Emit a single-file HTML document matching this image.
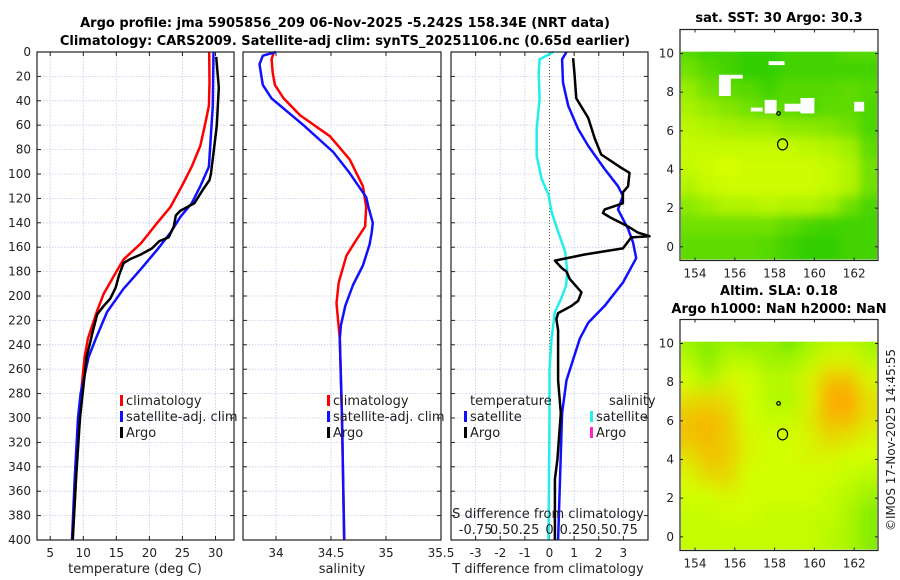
<!DOCTYPE html>
<html><head><meta charset="utf-8"><style>
body{margin:0;background:#fff;}
svg{display:block;font-family:"DejaVu Sans","Liberation Sans",sans-serif;}
</style></head><body>
<svg id="fig" width="900" height="580" viewBox="0 0 900 580" xmlns="http://www.w3.org/2000/svg">
<text x="345" y="27" font-size="13" font-weight="bold" text-anchor="middle">Argo profile: jma 5905856_209 06-Nov-2025 -5.242S 158.34E (NRT data)</text>
<text x="345" y="45" font-size="13" font-weight="bold" text-anchor="middle">Climatology: CARS2009. Satellite-adj clim: synTS_20251106.nc (0.65d earlier)</text>
<text x="779" y="22" font-size="13" font-weight="bold" text-anchor="middle">sat. SST: 30 Argo: 30.3</text>
<text x="779" y="295" font-size="13" font-weight="bold" text-anchor="middle">Altim. SLA: 0.18</text>
<text x="779" y="313" font-size="13" font-weight="bold" text-anchor="middle">Argo h1000: NaN h2000: NaN</text>
<text transform="translate(895,440) rotate(-90)" font-size="12" text-anchor="middle" fill="#222">©IMOS 17-Nov-2025 14:45:55</text>
<g id="g"></g>
</svg>
<script>
// ---- data ----
const depthTicks=[0,20,40,60,80,100,120,140,160,180,200,220,240,260,280,300,320,340,360,380,400];
const tempTicks=[5,10,15,20,25,30];
const salTicks=[34,34.5,35,35.5];
const tdiffTicks=[-3,-2,-1,0,1,2,3];
const sdiffTickLabels=['-0.75','0.5','0.25','0','0.25','0.5','0.75'];
const sdiffTicks=[-0.75,-0.5,-0.25,0,0.25,0.5,0.75];

const climTDepth=[0,25,44,60,77,94,110,127,140,157,170,181,198,212,235,250,300,350,400];
const climT=[29.05,29.1,29.0,28.4,27.7,26.4,24.9,23.2,21.2,18.7,16.1,14.9,13.1,12.1,10.7,10.2,9.3,8.9,8.4];
const satTDepth=[0,44,94,110,124,135,148,162,178,194,213,235,250,280,300,350,400];
const satT=[29.7,29.6,29.0,27.7,26.4,24.7,23.2,21.2,18.7,16.1,13.6,11.9,10.8,9.6,9.2,8.7,8.3];
const argoTDepth=[4,29,60,74,100,105,112,124,130,134,143,152,155,161,166,170,173,183,193,202,208,215,230,237,250,300,350,400];
const argoT=[30.1,30.5,30.2,29.9,29.3,29.1,28.2,26.8,24.7,24.0,23.7,22.9,21.5,20.4,18.7,17.0,16.1,15.4,14.9,14.1,13.1,12.1,11.4,11.1,10.5,9.5,8.9,8.4];

const climSDepth=[0,6,17,27,38,52,69,88,110,127,143,154,167,189,206,235,300,400];
const climS=[33.98,33.96,33.97,33.99,34.07,34.22,34.49,34.67,34.79,34.82,34.81,34.73,34.64,34.57,34.55,34.58,34.6,34.62];
const satSDepth=[0,3,10,27,38,60,82,98,119,127,140,148,158,175,191,208,224,235,300,400];
const satS=[34.0,33.88,33.85,33.88,33.96,34.25,34.52,34.66,34.82,34.84,34.88,34.87,34.85,34.79,34.70,34.63,34.59,34.58,34.6,34.62];

const sdSatDepth=[0,6,17,38,63,85,104,117,131,148,164,180,191,202,213,235,260,300,400];
const sdSat=[0.04,-0.1,-0.11,-0.1,-0.13,-0.13,-0.08,-0.01,0.02,0.09,0.16,0.18,0.17,0.12,0.055,0.02,0.0,0.0,-0.01];
const tdSatDepth=[0,6,25,44,63,77,96,110,118,129,145,156,169,189,208,222,235,269,296,400];
const tdSat=[0.69,0.51,0.55,0.76,1.16,1.57,2.24,2.78,2.98,2.78,3.19,3.39,3.52,2.98,2.24,1.57,1.23,0.69,0.51,0.35];
const tdArgoDepth=[5,17,38,54,71,84,95,99,110,115,124,129,132,136,143,148,151,152,161,166,171,177,180,186,197,204,208,214,219,228,235,269,296,334,350,400];
const tdArgo=[0.96,1.01,1.09,1.57,1.84,2.1,2.92,3.25,3.19,2.98,2.98,2.24,2.17,2.5,3.19,3.59,4.06,3.32,2.98,1.43,0.22,0.49,0.69,0.82,1.3,1.16,0.9,0.35,0.28,0.35,0.35,0.35,0.46,0.32,0.22,0.22];

const mapLonTicks=[154,156,158,160,162];
const mapLatTicks=[0,2,4,6,8,10];
const sstGrid=[
[0.3,0.2,0.2,0.1,0.1,0.2,0.2,0.2,0.3,0.3],
[0.45,0.3,0.2,0.1,0.1,0.2,0.2,0.2,0.2,0.2],
[0.65,0.45,0.35,0.3,0.2,0.3,0.3,0.3,0.35,0.3],
[0.75,0.65,0.55,0.45,0.35,0.35,0.25,0.35,0.35,0.25],
[0.85,0.8,0.75,0.7,0.7,0.6,0.6,0.55,0.45,0.25],
[0.9,0.9,0.9,0.9,0.9,0.9,0.85,0.8,0.7,0.35],
[0.9,0.95,1.0,0.95,0.95,0.95,0.95,0.9,0.8,0.45],
[0.8,0.9,0.95,0.95,0.95,0.95,0.95,0.9,0.8,0.45],
[0.6,0.7,0.8,0.8,0.85,0.8,0.8,0.7,0.45,0.25],
[0.45,0.45,0.45,0.45,0.45,0.35,0.25,0.2,0.2,0.2],
[0.35,0.35,0.35,0.35,0.3,0.2,0.1,0.1,0.2,0.2]];
const slaGrid=[
[0.3,0.2,0.3,0.2,0.3,0.1,0.3,0.4,0.4,0.3],
[0.4,0.2,0.4,0.4,0.3,0.3,0.4,0.55,0.55,0.4],
[0.5,0.35,0.55,0.5,0.4,0.4,0.55,0.8,0.8,0.55],
[0.65,0.7,0.65,0.5,0.4,0.35,0.55,0.9,0.95,0.65],
[0.8,0.85,0.75,0.5,0.45,0.45,0.6,0.85,0.85,0.65],
[0.8,0.85,0.75,0.55,0.5,0.5,0.55,0.7,0.65,0.55],
[0.65,0.8,0.75,0.55,0.5,0.5,0.55,0.55,0.5,0.5],
[0.55,0.7,0.7,0.5,0.5,0.5,0.5,0.5,0.45,0.4],
[0.5,0.5,0.55,0.5,0.5,0.5,0.5,0.45,0.4,0.3],
[0.45,0.45,0.5,0.5,0.45,0.45,0.45,0.45,0.35,0.2],
[0.45,0.45,0.45,0.45,0.45,0.45,0.45,0.4,0.35,0.2]];
const sstGaps=[[155.2,155.8,8.9,7.8],[155.8,156.4,8.9,8.7],[157.7,158.5,9.6,9.4],[157.5,158.1,7.6,6.9],[158.5,159.3,7.4,7.0],[159.3,160,7.7,6.9],[156.8,157.4,7.2,7.0],[162.0,162.5,7.5,7.0]];
const argoLon=158.4, argoLat=5.3;

// ---- helpers ----
const NS='http://www.w3.org/2000/svg';
const G=document.getElementById('g');
function mk(tag,name,attrs,parent){
  const el=document.createElementNS(NS,tag);
  
  
  for(const k in attrs) el.setAttribute(k,attrs[k]);
  (parent||G).appendChild(el);
  return el;
}
function txt(name,x,y,s,extra){const t=mk('text',name,Object.assign({x:x,y:y,'font-size':12,fill:'#222'},extra||{}));t.textContent=s;return t;}
const Y0=52,Y1=540;
const yD=d=>Y0+(d/400)*(Y1-Y0);
const panels=[
 {name:'temperature',x0:37,x1:234,d0:3.0,d1:32.8,ticks:tempTicks},
 {name:'salinity',x0:243,x1:441,d0:33.7,d1:35.5,ticks:salTicks},
 {name:'difference',x0:451,x1:648,d0:-4,d1:4,ticks:tdiffTicks}];
panels.forEach(p=>{p.sx=v=>p.x0+(v-p.d0)/(p.d1-p.d0)*(p.x1-p.x0);});
const sdx=v=>panels[2].sx(v*4);

panels.forEach((p,i)=>{
  depthTicks.forEach(d=>{mk('line',p.name+'-hgrid',{x1:p.x0,x2:p.x1,y1:yD(d),y2:yD(d),stroke:'#c3c8e8','stroke-width':0.8,'stroke-dasharray':'1.5,1.5'});});
  p.ticks.forEach(t=>{const x=p.sx(t);mk('line',p.name+'-vgrid',{x1:x,x2:x,y1:Y0,y2:Y1,stroke:'#c3c8e8','stroke-width':0.8,'stroke-dasharray':'1.5,1.5'});
    mk('line',p.name+'-xtick',{x1:x,x2:x,y1:Y1,y2:Y1-4,stroke:'#222'});mk('line',p.name+'-xtick-top',{x1:x,x2:x,y1:Y0,y2:Y0+4,stroke:'#222'});
    txt(p.name+'-xtick-label',x,557,String(t),{'text-anchor':'middle'});});
  depthTicks.forEach(d=>{mk('line',p.name+'-ytick',{x1:p.x0,x2:p.x0+4,y1:yD(d),y2:yD(d),stroke:'#222'});mk('line',p.name+'-ytick-r',{x1:p.x1,x2:p.x1-4,y1:yD(d),y2:yD(d),stroke:'#222'});});
});
depthTicks.forEach(d=>txt('depth-tick-label',31,yD(d)+4,String(d),{'text-anchor':'end'}));
mk('line','zero-line',{x1:panels[2].sx(0),x2:panels[2].sx(0),y1:Y0,y2:Y1,stroke:'#556b2f','stroke-width':1,'stroke-dasharray':'1,2'});

function series(name,p,sx,depths,vals,color,w){
  const pts=depths.map((d,i)=>sx(vals[i]).toFixed(1)+','+yD(d).toFixed(1)).join(' ');
  mk('polyline',name,{points:pts,fill:'none',stroke:color,'stroke-width':w||2.5,'stroke-linejoin':'round'});
}
const P=panels;
series('temp-climatology-line',P[0],P[0].sx,climTDepth,climT,'#ff0000');
series('temp-satellite-line',P[0],P[0].sx,satTDepth,satT,'#1010ff');
series('temp-argo-line',P[0],P[0].sx,argoTDepth,argoT,'#000');
series('sal-climatology-line',P[1],P[1].sx,climSDepth,climS,'#ff0000');
series('sal-satellite-line',P[1],P[1].sx,satSDepth,satS,'#1010ff');
series('sdiff-satellite-line',P[2],sdx,sdSatDepth,sdSat,'#22eeee');
series('tdiff-satellite-line',P[2],P[2].sx,tdSatDepth,tdSat,'#1010ff');
series('tdiff-argo-line',P[2],P[2].sx,tdArgoDepth,tdArgo,'#000');

panels.forEach(p=>mk('rect',p.name+'-frame',{x:p.x0,y:Y0,width:p.x1-p.x0,height:Y1-Y0,fill:'none',stroke:'#222','stroke-width':1.2}));

txt('x-axis-title-temperature',135,573,'temperature (deg C)',{'text-anchor':'middle','font-size':13});
txt('x-axis-title-salinity',342,573,'salinity',{'text-anchor':'middle','font-size':13});
txt('x-axis-title-tdiff',548,573,'T difference from climatology',{'text-anchor':'middle','font-size':13});
txt('sdiff-axis-title',548,518,'S difference from climatology',{'text-anchor':'middle','font-size':13});
sdiffTicks.forEach((t,i)=>txt('sdiff-tick-label',sdx(t),534,sdiffTickLabels[i],{'text-anchor':'middle','font-size':13}));

function legend(name,x,y,color,label){mk('rect',name+'-swatch',{x:x,y:y-10,width:3,height:11,fill:color});txt(name,x+6,y,label,{'font-size':13});}
legend('legend-climatology',120,405,'#ff0000','climatology');
legend('legend-satellite-adj',120,421,'#1010ff','satellite-adj. clim');
legend('legend-argo',120,437,'#000','Argo');
legend('legend2-climatology',327,405,'#ff0000','climatology');
legend('legend2-satellite-adj',327,421,'#1010ff','satellite-adj. clim');
legend('legend2-argo',327,437,'#000','Argo');
txt('legend3-temperature-heading',470,405,'temperature',{'font-size':13});
txt('legend3-salinity-heading',609,405,'salinity',{'font-size':13});
legend('legend3-t-satellite',464,421,'#1010ff','satellite');
legend('legend3-t-argo',464,437,'#000','Argo');
legend('legend3-s-satellite',590,421,'#22eeee','satellite');
legend('legend3-s-argo',590,437,'#ff22cc','Argo');

// ---- maps ----
function lerp(a,b,t){t=Math.max(0,Math.min(1,t));return a.map((v,i)=>Math.round(v+(b[i]-v)*t));}
function sstColor(v){const c=lerp([30,200,0],[215,255,0],v);return 'rgb('+c+')';}
function slaColor(v){const c=v<0.5?lerp([80,225,0],[210,255,0],v/0.5):lerp([210,255,0],[255,165,0],(v-0.5)/0.45);return 'rgb('+c+')';}
function drawMap(name,top,grid,cf,blur,gaps){
  const fx0=680,fx1=878,fy0=top,fy1=top+231;
  const lx=lon=>695+(lon-154)*19.9;
  const ly=lat=>top+24+(10-lat)*19.33;
  const dx0=681,dx1=877,dy0=ly(10.1),dy1=fy1-1;
  const defs=mk('defs',name+'-defs',{});
  const clip=mk('clipPath',name+'-clip',{id:name+'clip'},defs);
  mk('rect',name+'-clip-rect',{x:dx0,y:dy0,width:dx1-dx0,height:dy1-dy0},clip);
  const f=mk('filter',name+'-blur',{id:name+'blur',filterUnits:'userSpaceOnUse',x:640,y:top-40,width:280,height:320},defs);
  mk('feGaussianBlur',name+'-blur-op',{stdDeviation:blur},f);
  const g0=mk('g',name+'-clip-group',{'clip-path':'url(#'+name+'clip)'});
  const g=mk('g',name+'-cells',{filter:'url(#'+name+'blur)'},g0);
  const nc=grid[0].length, nr=grid.length;
  const cw=(163.3-153.2)/nc;
  grid.forEach((row,r)=>row.forEach((v,c)=>{
    const lat=10-r;const lon0=153.2+c*cw;
    const x=lx(lon0)-(c==0?20:1), w=lx(lon0+cw)-lx(lon0)+2+(c==0?19:0)+(c==nc-1?20:0);
    mk('rect',name+'-cell',{x:x,y:ly(lat+0.6)-1-(r==0?20:0),width:w,height:19.33+2+(r==nr-1?30:0)+(r==0?20:0),fill:cf(v)},g);
  }));
  (gaps||[]).forEach(gp=>mk('rect',name+'-missing-data',{x:lx(gp[0]),y:ly(gp[2]),width:lx(gp[1])-lx(gp[0]),height:ly(gp[3])-ly(gp[2]),fill:'#fff'},g0));
  mk('rect',name+'-top-blank',{x:dx0,y:fy0,width:dx1-dx0,height:dy0-fy0,fill:'#fff'});
  mk('ellipse',name+'-argo-location',{cx:lx(argoLon),cy:ly(argoLat),rx:5,ry:5.5,fill:'none',stroke:'#000','stroke-width':1.2});
  mk('circle',name+'-island',{cx:lx(158.2),cy:ly(6.9),r:1.8,fill:'none',stroke:'#000','stroke-width':1.2});
  mk('rect',name+'-frame',{x:fx0,y:fy0,width:fx1-fx0,height:fy1-fy0,fill:'none',stroke:'#222','stroke-width':1.2});
  mapLonTicks.forEach(t=>{const x=lx(t);mk('line',name+'-xtick',{x1:x,x2:x,y1:fy1,y2:fy1-3,stroke:'#222'});mk('line',name+'-xtick-top',{x1:x,x2:x,y1:fy0,y2:fy0+3,stroke:'#222'});
    txt(name+'-lon-label',x,fy1+17,String(t),{'text-anchor':'middle'});});
  mapLatTicks.forEach(t=>{const y=ly(t);mk('line',name+'-ytick',{x1:fx0,x2:fx0+3,y1:y,y2:y,stroke:'#222'});mk('line',name+'-ytick-r',{x1:fx1,x2:fx1-3,y1:y,y2:y,stroke:'#222'});
    txt(name+'-lat-label',674,y+4,String(t),{'text-anchor':'end'});});
}
drawMap('sst-map',29.5,sstGrid,sstColor,5,sstGaps);
drawMap('sla-map',319.5,slaGrid,slaColor,8,null);
</script>
</body></html>
